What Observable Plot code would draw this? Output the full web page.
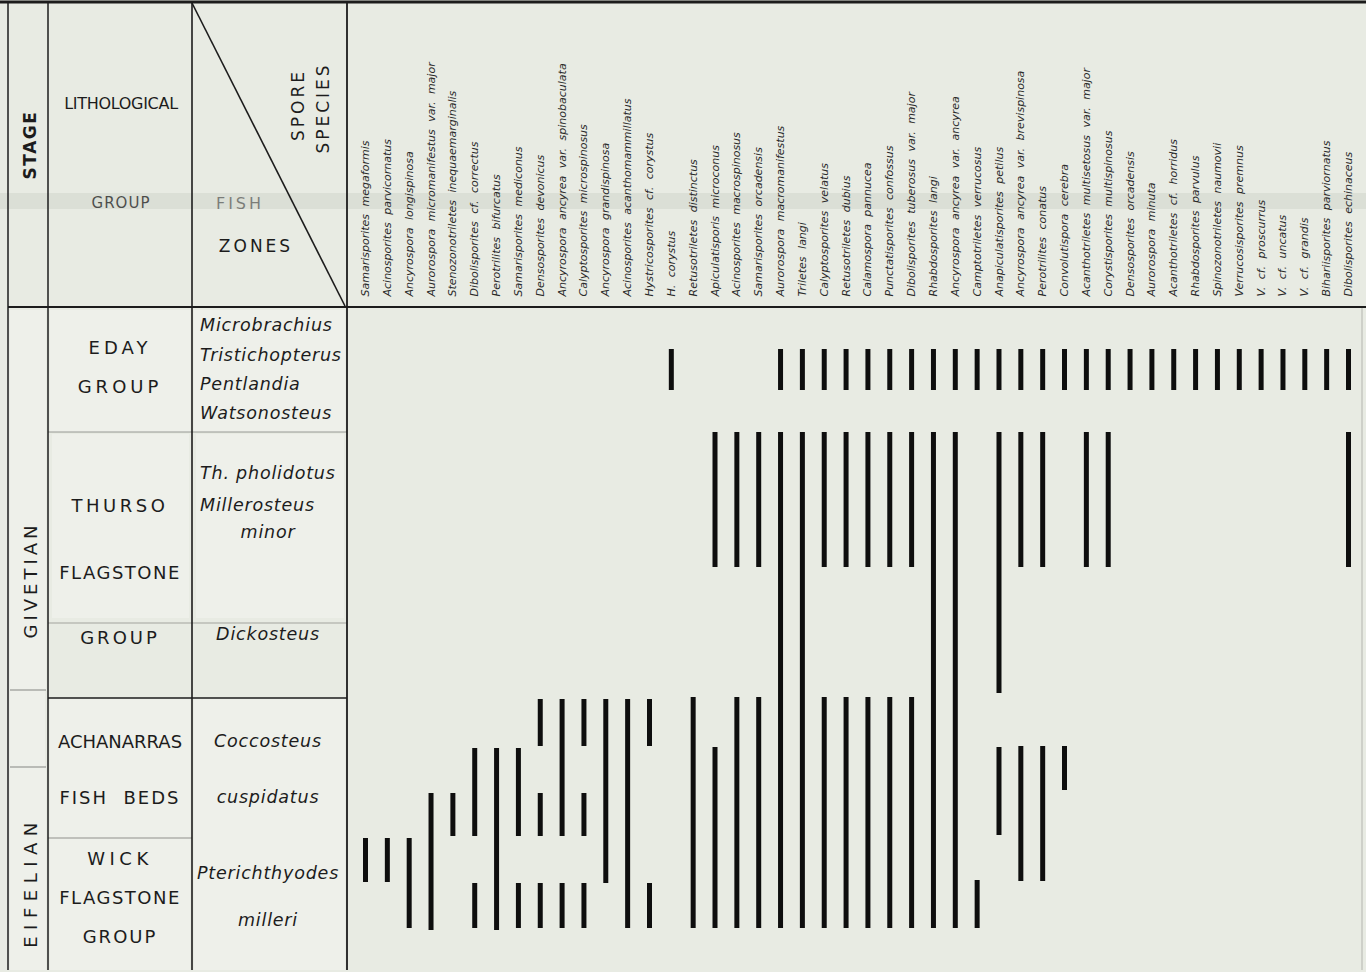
<!DOCTYPE html>
<html><head><meta charset="utf-8">
<script src="https://cdn.jsdelivr.net/npm/d3@7"></script>
<script src="https://cdn.jsdelivr.net/npm/@observablehq/plot@0.6"></script>
<style>
html,body{margin:0;padding:0;background:#e8ebe3;}
#chart svg{display:block;}
#chart g[aria-label="x-axis tick label"] text{font-style:italic;word-spacing:4px;}
</style></head><body><div id="chart"></div>
<script>
// Spore species (x axis, left to right)
const species = [
  "Samarisporites megaformis","Acinosporites parvicornatus","Ancyrospora longispinosa",
  "Aurorospora micromanifestus var. major","Stenozonotriletes inequaemarginalis",
  "Dibolisporites cf. correctus","Perotrilites bifurcatus","Samarisporites mediconus",
  "Densosporites devonicus","Ancyrospora ancyrea var. spinobaculata","Calyptosporites microspinosus",
  "Ancyrospora grandispinosa","Acinosporites acanthomammillatus","Hystricosporites cf. corystus",
  "H. corystus","Retusotriletes distinctus","Apiculatisporis microconus","Acinosporites macrospinosus",
  "Samarisporites orcadensis","Aurorospora macromanifestus","Triletes langi","Calyptosporites velatus",
  "Retusotriletes dubius","Calamospora pannucea","Punctatisporites confossus",
  "Dibolisporites tuberosus var. major","Rhabdosporites langi","Ancyrospora ancyrea var. ancyrea",
  "Camptotriletes verrucosus","Anapiculatisporites petilus","Ancyrospora ancyrea var. brevispinosa",
  "Perotrilites conatus","Convolutispora cerebra","Acanthotriletes multisetosus var. major",
  "Corystisporites multispinosus","Densosporites orcadensis","Aurorospora minuta",
  "Acanthotriletes cf. horridus","Rhabdosporites parvulus","Spinozonotriletes naumovii",
  "Verrucosisporites premnus","V. cf. proscurrus","V. cf. uncatus","V. cf. grandis",
  "Bihariisporites parviornatus","Dibolisporites echinaceus"
];

// Range bars: [species index, top level, base level] (levels above base of section)
const ranges = [
  [0,13.2,8.8],[1,13.2,8.8],[2,13.2,4.2],[3,17.7,4.0],[4,17.7,13.4],
  [5,22.2,13.4],[5,8.7,4.2],[6,22.2,4.0],[7,22.2,13.4],[7,8.7,4.2],
  [8,27.1,22.4],[8,17.7,13.4],[8,8.7,4.2],
  [9,27.1,13.4],[9,8.7,4.2],
  [10,27.1,22.4],[10,17.7,13.4],[10,8.7,4.2],
  [11,27.1,8.7],[12,27.1,4.2],[13,27.1,22.4],[13,8.7,4.2],
  [14,62.1,58.0],
  [15,27.3,4.2],
  [16,53.8,40.3],[16,22.3,4.2],
  [17,53.8,40.3],[17,27.3,4.2],
  [18,53.8,40.3],[18,27.3,4.2],
  [19,62.1,58.0],[19,53.8,4.2],
  [20,62.1,58.0],[20,53.8,4.2],
  [21,62.1,58.0],[21,53.8,40.3],[21,27.3,4.2],
  [22,62.1,58.0],[22,53.8,40.3],[22,27.3,4.2],
  [23,62.1,58.0],[23,53.8,40.3],[23,27.3,4.2],
  [24,62.1,58.0],[24,53.8,40.3],[24,27.3,4.2],
  [25,62.1,58.0],[25,53.8,40.3],[25,27.3,4.2],
  [26,62.1,58.0],[26,53.8,4.2],
  [27,62.1,58.0],[27,53.8,4.2],
  [28,62.1,58.0],[28,9.0,4.2],
  [29,62.1,58.0],[29,53.8,27.7],[29,22.3,13.5],
  [30,62.1,58.0],[30,53.8,40.3],[30,22.4,8.9],
  [31,62.1,58.0],[31,53.8,40.3],[31,22.4,8.9],
  [32,62.1,58.0],[32,22.4,18.0],
  [33,62.1,58.0],[33,53.8,40.3],
  [34,62.1,58.0],[34,53.8,40.3],
  [35,62.1,58.0],[36,62.1,58.0],[37,62.1,58.0],[38,62.1,58.0],[39,62.1,58.0],
  [40,62.1,58.0],[41,62.1,58.0],[42,62.1,58.0],[43,62.1,58.0],[44,62.1,58.0],
  [45,62.1,58.0],[45,53.8,40.3]
];

// Section levels of lithological group boundaries
const sectionTop = 66.2;
const groupBounds = [53.8, 27.2, 13.2];   // Eday/Thurso, Thurso/Achanarras, Achanarras/Wick
const thursoInnerBound = 34.7;
const stageBoxTop = 28.0, stageBoxBase = 20.3;

// Text labels of the table columns: [text, level, letter-spacing]
const stageLabels = [["GIVETIAN", 39.0, 4], ["EIFELIAN", 8.8, 6.5]];
const lithoLabels = [
  ["EDAY",62.3,4],["GROUP",58.4,4],["THURSO",46.5,3.5],["FLAGSTONE",39.8,1.5],["GROUP",33.3,3],
  ["ACHANARRAS",22.9,0],["FISH  BEDS",17.3,2],["WICK",11.2,4.5],["FLAGSTONE",7.3,1.5],["GROUP",3.4,2]
];
const fishLabels = [
  ["Microbrachius",64.5,"start"],["Tristichopterus",61.5,"start"],["Pentlandia",58.6,"start"],
  ["Watsonosteus",55.7,"start"],["Th. pholidotus",49.7,"start"],["Millerosteus",46.5,"start"],
  ["minor",43.8,"middle"],["Dickosteus",33.6,"middle"],["Coccosteus",22.9,"middle"],
  ["cuspidatus",17.3,"middle"],["Pterichthyodes",9.7,"middle"],["milleri",5.0,"middle"]
];

const data = ranges.map(([i, top, base]) => ({species: species[i], top, base}));

const plot = Plot.plot({
  width: 1366, height: 972,
  marginTop: 308, marginLeft: 348, marginRight: 6, marginBottom: 2,
  style: {background: "transparent", fontFamily: "DejaVu Sans", color: "#1a1a1a"},
  x: {type: "point", domain: species, range: [365, 1348], padding: 0},
  y: {domain: [0, sectionTop], range: [970, 308], axis: null},
  marks: [
    Plot.ruleX(data, {x: "species", y1: "base", y2: "top", stroke: "#0e0e0e", strokeWidth: 5}),
    Plot.axisX({anchor: "top", tickSize: 0, tickPadding: 12, tickRotate: -90, textAnchor: "start",
      lineAnchor: "middle", fontSize: 11, label: null, fill: "#2a2a2a"})
  ]
});
document.getElementById("chart").appendChild(plot);

const y = plot.scale("y");
const Y = v => y.apply(v);
const svg = d3.select(plot);
const g = svg.insert("g", ":first-child");
const ink = "#1c1c1c";

// lighter table cells
const cells = [
  [50,310,190,Y(groupBounds[0])],[194,310,345,Y(groupBounds[0])],
  [52,Y(groupBounds[0])+2,189,618],[196,Y(groupBounds[0])+2,344,618],
  [50,Y(groupBounds[1]),190,Y(groupBounds[2])],[194,Y(groupBounds[1]),345,970],
  [50,Y(groupBounds[2]),190,970],[10,Y(stageBoxTop),45,Y(stageBoxBase)],
  [10,310,46,Y(stageBoxTop)],[10,Y(stageBoxBase),46,970]
];
g.selectAll("rect.cell").data(cells).join("rect")
  .attr("x", d=>d[0]).attr("y", d=>d[1]).attr("width", d=>d[2]-d[0]).attr("height", d=>d[3]-d[1])
  .attr("fill", "#eef0ea");
// scan band
g.append("rect").attr("x",0).attr("y",193).attr("width",1366).attr("height",16)
  .attr("fill","#c9ccc4").attr("opacity",0.4);

const lines = svg.append("g").attr("stroke", ink).attr("fill", "none");
const L = (x1,y1,x2,y2,w=1.5,op=1) => lines.append("line").attr("x1",x1).attr("y1",y1).attr("x2",x2).attr("y2",y2).attr("stroke-width",w).attr("opacity",op);
L(0,2,1366,2,3);
L(8,2,8,970,1.5); L(48,2,48,970,1.5); L(192,2,192,970,1.6); L(347,2,347,970,1.8);
L(8,307,1366,307,1.8);
L(192,3,345,306,1.6);
L(48,Y(groupBounds[0]),347,Y(groupBounds[0]),1,0.4);
L(48,Y(groupBounds[1]),347,Y(groupBounds[1]),1.6);
L(48,Y(groupBounds[2]),192,Y(groupBounds[2]),1,0.45);
L(48,Y(thursoInnerBound),347,Y(thursoInnerBound),1,0.35);
L(10,Y(stageBoxTop),46,Y(stageBoxTop),1,0.5);
L(10,Y(stageBoxBase),46,Y(stageBoxBase),1,0.5);
L(1362,308,1362,970,1,0.25);

const txt = svg.append("g").attr("fill", ink).attr("font-family", "DejaVu Sans");
const T = (s,x,yy,size,opts={}) => {
  const t = txt.append("text").text(s).attr("x",x).attr("y",yy).attr("font-size",size)
    .attr("text-anchor", opts.anchor||"middle").attr("dominant-baseline","central");
  if (opts.ls!=null) t.attr("letter-spacing", opts.ls);
  if (opts.rot) t.attr("transform", `rotate(${opts.rot},${x},${yy})`);
  if (opts.italic) t.attr("font-style","italic");
  if (opts.weight) t.attr("font-weight",opts.weight);
  if (opts.op) t.attr("opacity",opts.op);
  return t;
};
// header
T("STAGE",30,145,17,{rot:-90,ls:1.5,weight:"600"});
T("LITHOLOGICAL",121,103,16,{ls:-0.3});
T("GROUP",121,203,15,{ls:1,op:0.75});
T("SPORE",298,105,17,{rot:-90,ls:3});
T("SPECIES",323,108,17,{rot:-90,ls:3});
T("FISH",240,203,16,{ls:3,op:0.5});
T("ZONES",256,246,17,{ls:3});

// body
stageLabels.forEach(([s,v,ls]) => T(s,30,Y(v),18,{rot:-90,ls}));
lithoLabels.forEach(([s,v,ls]) => T(s,120,Y(v),18,{ls}));
fishLabels.forEach(([s,v,a]) => T(s, a==="start"?200:268, Y(v), 17.5, {anchor:a, italic:true, ls:0.8}));
</script></body></html>
